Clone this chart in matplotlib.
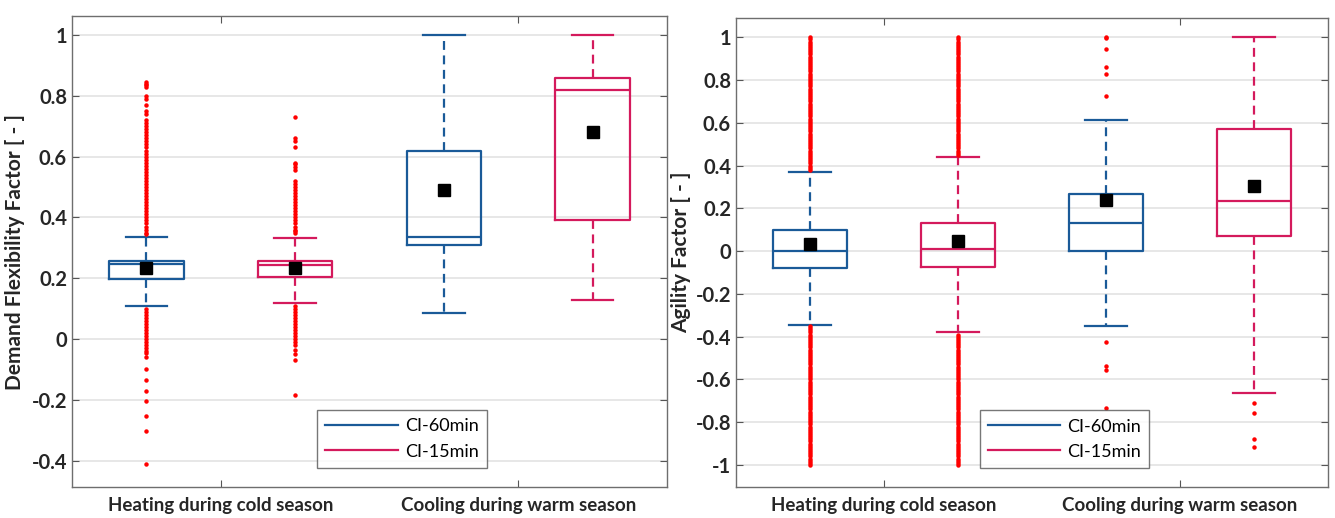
import numpy as np
import matplotlib.pyplot as plt
from matplotlib.lines import Line2D

plt.rcParams['font.family'] = ['Lato', 'DejaVu Sans']

# ---- data ----
categories = ["Heating during cold season", "Cooling during warm season"]
series = ["CI-60min", "CI-15min"]

# left panel: demand flexibility factor, order = heat-60, heat-15, cool-60, cool-15
dff_q1 = [0.197, 0.203, 0.310, 0.390]
dff_med = [0.248, 0.243, 0.335, 0.818]
dff_q3 = [0.258, 0.258, 0.620, 0.860]
dff_lo = [0.108, 0.120, 0.085, 0.127]
dff_hi = [0.335, 0.332, 1.000, 1.000]
dff_mean = [0.235, 0.235, 0.490, 0.680]

dff_out_heat60 = [0.345, 0.35, 0.36, 0.37, 0.38, 0.39, 0.40, 0.41, 0.42, 0.43,
                  0.44, 0.45, 0.46, 0.47, 0.48, 0.49, 0.50, 0.51, 0.52, 0.53,
                  0.54, 0.55, 0.56, 0.57, 0.58, 0.59, 0.60, 0.61, 0.62, 0.63,
                  0.64, 0.65, 0.66, 0.67, 0.68, 0.69, 0.70, 0.71, 0.72, 0.74,
                  0.75, 0.77, 0.79, 0.80, 0.83, 0.835, 0.84, 0.845,
                  0.10, 0.09, 0.08, 0.07, 0.06, 0.05, 0.04, 0.03, 0.02, 0.01,
                  0.0, -0.01, -0.02, -0.03, -0.04, -0.046, -0.059, -0.10,
                  -0.135, -0.17, -0.205, -0.253, -0.303, -0.41]
dff_out_heat15 = [0.348, 0.355, 0.36, 0.37, 0.38, 0.39, 0.40, 0.41, 0.42, 0.43,
                  0.44, 0.45, 0.46, 0.47, 0.48, 0.49, 0.50, 0.51, 0.52, 0.555,
                  0.565, 0.575, 0.58, 0.63, 0.65, 0.66, 0.73,
                  0.11, 0.10, 0.09, 0.08, 0.07, 0.06, 0.05, 0.04, 0.03, 0.02,
                  0.01, 0.0, -0.01, -0.02, -0.035, -0.05, -0.069, -0.184]
dff_out_cool60 = []
dff_out_cool15 = []

# right panel: agility factor
af_q1 = [-0.080, -0.075, 0.000, 0.070]
af_med = [0.000, 0.012, 0.130, 0.235]
af_q3 = [0.100, 0.130, 0.265, 0.570]
af_lo = [-0.345, -0.380, -0.350, -0.665]
af_hi = [0.370, 0.440, 0.615, 1.000]
af_mean = [0.032, 0.048, 0.240, 0.305]

af_out_heat60 = [0.38, 0.39, 0.40, 0.41, 0.42, 0.43, 0.44, 0.45, 0.46, 0.47,
                 0.48, 0.49, 0.50, 0.51, 0.52, 0.53, 0.54, 0.55, 0.56, 0.57,
                 0.58, 0.59, 0.60, 0.61, 0.62, 0.63, 0.64, 0.65, 0.66, 0.67,
                 0.68, 0.69, 0.70, 0.71, 0.72, 0.73, 0.74, 0.75, 0.76, 0.77,
                 0.78, 0.79, 0.80, 0.81, 0.82, 0.83, 0.84, 0.85, 0.86, 0.87,
                 0.88, 0.89, 0.90, 0.91, 0.92, 0.93, 0.94, 0.95, 0.96, 0.97,
                 0.98, 0.99, 1.00,
                 -0.35, -0.36, -0.37, -0.38, -0.39, -0.40, -0.41, -0.42, -0.43,
                 -0.44, -0.45, -0.46, -0.47, -0.48, -0.49, -0.50, -0.51, -0.52,
                 -0.53, -0.54, -0.55, -0.56, -0.57, -0.58, -0.59, -0.60, -0.61,
                 -0.62, -0.63, -0.64, -0.65, -0.66, -0.67, -0.68, -0.69, -0.70,
                 -0.71, -0.72, -0.73, -0.74, -0.75, -0.76, -0.77, -0.78, -0.79,
                 -0.80, -0.81, -0.82, -0.83, -0.84, -0.85, -0.86, -0.87, -0.88,
                 -0.89, -0.90, -0.91, -0.92, -0.93, -0.94, -0.95, -0.96, -0.97,
                 -0.98, -0.99, -1.00]
af_out_heat15 = [0.45, 0.46, 0.47, 0.48, 0.49, 0.50, 0.51, 0.52, 0.53, 0.54,
                 0.55, 0.56, 0.57, 0.58, 0.59, 0.60, 0.61, 0.62, 0.63, 0.64,
                 0.65, 0.66, 0.67, 0.68, 0.69, 0.70, 0.71, 0.72, 0.73, 0.74,
                 0.75, 0.76, 0.77, 0.78, 0.79, 0.80, 0.81, 0.82, 0.83, 0.84,
                 0.85, 0.86, 0.87, 0.88, 0.89, 0.90, 0.91, 0.92, 0.93, 0.94,
                 0.95, 0.96, 0.97, 0.98, 0.99, 1.00,
                 -0.39, -0.40, -0.41, -0.42, -0.43, -0.44, -0.45, -0.46, -0.47,
                 -0.48, -0.49, -0.50, -0.51, -0.52, -0.53, -0.54, -0.55, -0.56,
                 -0.57, -0.58, -0.59, -0.60, -0.61, -0.62, -0.63, -0.64, -0.65,
                 -0.66, -0.67, -0.68, -0.69, -0.70, -0.71, -0.72, -0.73, -0.74,
                 -0.75, -0.76, -0.77, -0.78, -0.79, -0.80, -0.81, -0.82, -0.83,
                 -0.84, -0.85, -0.86, -0.87, -0.88, -0.89, -0.90, -0.91, -0.92,
                 -0.93, -0.94, -0.95, -0.96, -0.97, -0.98, -0.99, -1.00]
af_out_cool60 = [1.0, 0.995, 0.944, 0.86, 0.827, 0.724,
                 -0.425, -0.537, -0.555, -0.733]
af_out_cool15 = [-0.71, -0.755, -0.878, -0.915]

blue = "#1a5a98"
pink = "#d41a5c"
colors = [blue, pink, blue, pink]


def draw_panel(ax, q1, med, q3, lo, hi, mean, outliers):
    for i in range(4):
        stats = [{
            "q1": q1[i], "med": med[i], "q3": q3[i],
            "whislo": lo[i], "whishi": hi[i], "mean": mean[i],
            "fliers": np.array(outliers[i]),
        }]
        c = colors[i]
        ax.bxp(stats, positions=[i + 1], widths=0.5, capwidths=0.28,
               showmeans=True, showfliers=True,
               boxprops=dict(color=c, linewidth=1.6),
               medianprops=dict(color=c, linewidth=1.6),
               whiskerprops=dict(color=c, linewidth=1.6, linestyle=(0, (4, 2.5))),
               capprops=dict(color=c, linewidth=1.6),
               meanprops=dict(marker="s", markerfacecolor="black",
                              markeredgecolor="black", markersize=8),
               flierprops=dict(marker="o", markerfacecolor="#ff0000",
                               markeredgecolor="#ff0000", markersize=2.2,
                               linestyle="none"))

    ax.set_xlim(0.5, 4.5)
    ax.set_xticks([1.5, 3.5])
    ax.set_xticklabels(categories, fontsize=13.5, fontweight="bold", color="#262626")
    ax.tick_params(axis="both", direction="in", top=True, right=True,
                   color="#555555", length=5)
    ax.tick_params(axis="y", labelsize=14.5)
    ax.tick_params(axis="x", pad=7)
    ax.yaxis.grid(True, color="#e3e3e3", linewidth=1.2)
    ax.set_axisbelow(True)
    for sp in ax.spines.values():
        sp.set_color("#6e6e6e")
        sp.set_linewidth(1.0)

    handles = [Line2D([], [], color=blue, linewidth=1.6),
               Line2D([], [], color=pink, linewidth=1.6)]
    leg = ax.legend(handles, series, loc="lower left",
                    bbox_to_anchor=(0.397, 0.022), fontsize=13,
                    handlelength=4.0, frameon=True, fancybox=False,
                    borderpad=0.45, labelspacing=0.5, handletextpad=0.4)
    leg.get_frame().set_edgecolor("#555555")
    leg.get_frame().set_linewidth(1.0)


fig = plt.figure(figsize=(13.35, 5.18), dpi=100)
ax1 = fig.add_axes([0.0539, 0.0598, 0.4457, 0.909])
ax2 = fig.add_axes([0.5513, 0.0598, 0.4434, 0.905])

draw_panel(ax1, dff_q1, dff_med, dff_q3, dff_lo, dff_hi, dff_mean,
           [dff_out_heat60, dff_out_heat15, dff_out_cool60, dff_out_cool15])
ax1.set_ylim(-0.487, 1.062)
ax1.set_yticks(np.arange(-0.4, 1.01, 0.2))
ax1.set_yticklabels(["-0.4", "-0.2", "0", "0.2", "0.4", "0.6", "0.8", "1"],
                    fontweight="bold", color="#262626")
ax1.set_ylabel("Demand Flexibility Factor [ - ]", fontsize=15,
               fontweight="bold", color="#262626", labelpad=5)

draw_panel(ax2, af_q1, af_med, af_q3, af_lo, af_hi, af_mean,
           [af_out_heat60, af_out_heat15, af_out_cool60, af_out_cool15])
ax2.set_ylim(-1.103, 1.089)
ax2.set_yticks(np.arange(-1.0, 1.01, 0.2))
ax2.set_yticklabels(["-1", "-0.8", "-0.6", "-0.4", "-0.2", "0", "0.2", "0.4",
                     "0.6", "0.8", "1"], fontweight="bold", color="#262626")
ax2.set_ylabel("Agility Factor [ - ]", fontsize=15, fontweight="bold",
               color="#262626", labelpad=3)

fig.savefig("out.png", dpi=100)
